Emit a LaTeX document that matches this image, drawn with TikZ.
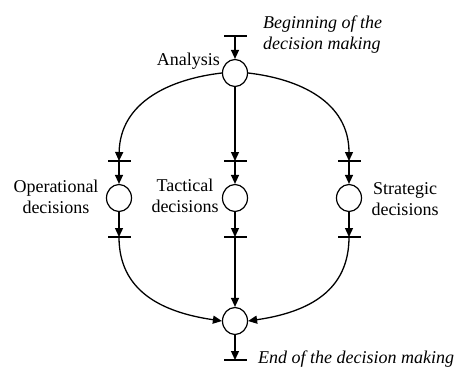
\documentclass[tikz,border=0pt]{standalone}
\usepackage{fontspec}
\setmainfont{Liberation Serif}
\usetikzlibrary{arrows.meta,shapes.geometric}
\begin{document}
\begin{tikzpicture}[x=1pt,y=-1pt,
  every node/.style={font=\fontsize{18}{21}\selectfont},
  place/.style={draw,ellipse,line width=1.2pt,minimum width=25pt,minimum height=27pt,inner sep=0pt},
  transbar/.style={fill=black,inner sep=0pt,minimum width=23pt,minimum height=2.4pt},
  flow/.style={line width=1.3pt,-{Triangle[length=9pt,width=8pt]}},
  lbl/.style={align=center,inner sep=0pt}]
\useasboundingbox (0,0) rectangle (463,367);
% places
\node[place] (A) at (235,73) {};
\node[place] (L) at (119,198) {};
\node[place] (M) at (235,198) {};
\node[place] (R) at (349,198) {};
\node[place] (E) at (235,321) {};
% transitions
\node[transbar] (tb) at (235,36) {};
\node[transbar] (l1) at (119,161) {};
\node[transbar] (m1) at (235,161) {};
\node[transbar] (r1) at (349,161) {};
\node[transbar] (l2) at (119,237) {};
\node[transbar] (m2) at (235,237) {};
\node[transbar] (r2) at (349,237) {};
\node[transbar] (eb) at (235,360) {};
% arcs
\draw[flow] (tb.center) -- (A.north);
\draw[flow] (A.west) .. controls (170,79) and (120,102) .. (l1.center);
\draw[flow] (A.south) -- (m1.center);
\draw[flow] (A.east) .. controls (300,79) and (349,102) .. (r1.center);
\draw[flow] (l1.center) -- (L.north);
\draw[flow] (m1.center) -- (M.north);
\draw[flow] (r1.center) -- (R.north);
\draw[flow] (L.south) -- (l2.center);
\draw[flow] (M.south) -- (m2.center);
\draw[flow] (R.south) -- (r2.center);
\draw[flow] (l2.center) .. controls (119,290) and (160,312) .. (E.west);
\draw[flow] (m2.center) -- (E.north);
\draw[flow] (r2.center) .. controls (349,290) and (310,312) .. (E.east);
\draw[flow] (E.south) -- (eb.center);
% labels (base anchor of a multi-line node sits on its last line)
\node[lbl,anchor=base west,align=left,font=\fontsize{18}{21}\selectfont\itshape] (tbeg) at (263,49) {Beginning of the\\decision making};
\node[lbl,anchor=base east] (tana) at (220,65) {Analysis};
\node[lbl,anchor=base] (top) at (56,213) {Operational\\decisions};
\node[lbl,anchor=base] (ttac) at (185,212) {Tactical\\decisions};
\node[lbl,anchor=base] (tstr) at (405,215) {Strategic\\decisions};
\node[lbl,anchor=base west,font=\fontsize{18}{21}\selectfont\itshape] (tend) at (258,363) {End of the decision making};
\end{tikzpicture}
\end{document}
